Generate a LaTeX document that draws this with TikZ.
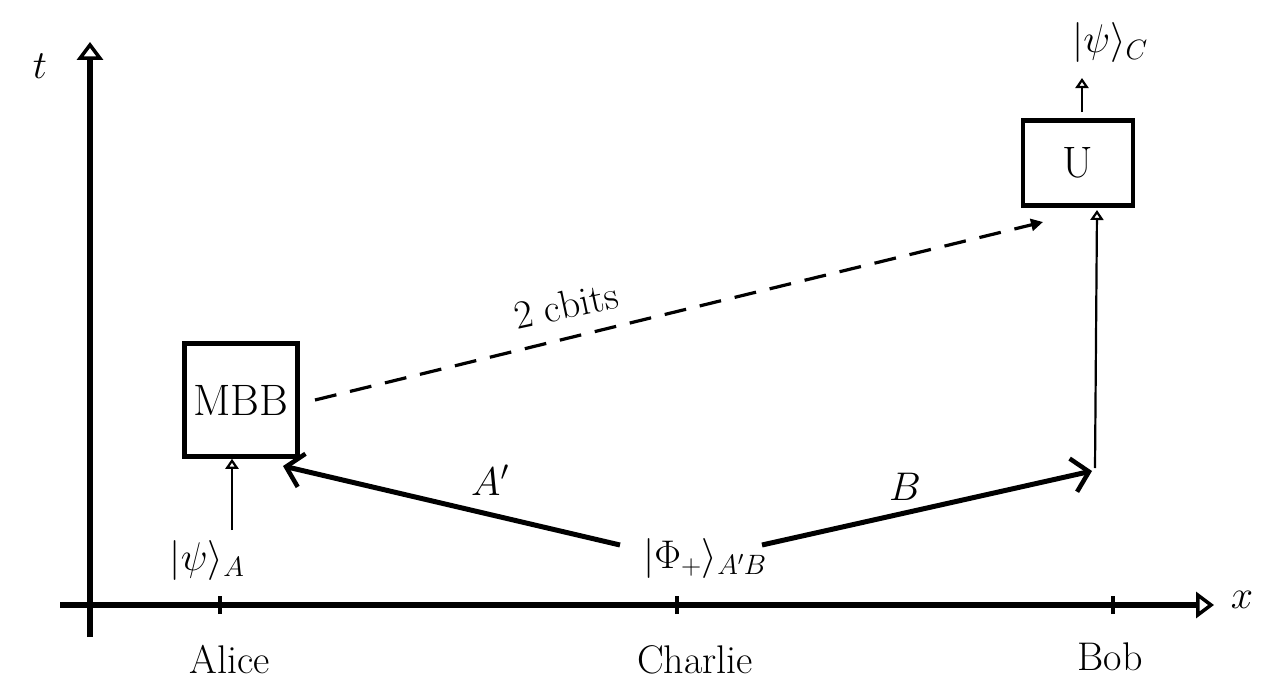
\RequirePackage{fix-cm}
\documentclass[tikz,border=0pt]{standalone}
\usetikzlibrary{arrows.meta}
\begin{document}
\begin{tikzpicture}[x=1pt,y=-1pt,
  axis/.style={line width=5.5pt, -{Triangle[open,length=18pt,width=26pt,line width=3.5pt]}},
  thinarr/.style={line width=2.2pt, -{Triangle[open,length=10pt,width=13pt,line width=2.2pt]}},
  thickarr/.style={line width=5pt, -{Straight Barb[length=16pt,width=34pt,line width=4.5pt]}},
  tick/.style={line width=3.5pt},
  box/.style={draw, line width=4.5pt, inner sep=0pt},
  lbl/.style={font=\fontsize{40}{42}\selectfont, inner sep=0pt},
  boxtxt/.style={font=\fontsize{44}{46}\selectfont},
  cbits/.style={line width=3.2pt, dash pattern=on 22pt off 14pt, -{Triangle[length=12pt,width=12pt]}},
]
\useasboundingbox (0,0) rectangle (1285,693);

% axes
\coordinate (tStart) at (90,637);
\coordinate (tEnd) at (90,42);
\coordinate (xStart) at (60,605);
\coordinate (xEnd) at (1214,605);
\draw[axis] (tStart) -- (tEnd);
\draw[axis] (xStart) -- (xEnd);
\node[lbl] (tlab) at (40,66) {$t$};
\node[lbl] (xlab) at (1242,600) {$x$};

% ticks
\coordinate (alice) at (220,605);
\coordinate (charlie) at (677,605);
\coordinate (bob) at (1113,605);
\foreach \p in {alice,charlie,bob}
  \draw[tick] ([yshift=-9pt]\p) -- ([yshift=9pt]\p);
\node[lbl] (alicelab) at (230,660) {Alice};
\node[lbl] (charlielab) at (695,660) {Charlie};
\node[lbl] (boblab) at (1110,657) {Bob};

% boxes
\node[box, boxtxt, minimum width=113pt, minimum height=113pt] (mbb) at (241,400) {MBB};
\node[box, boxtxt, minimum width=110pt, minimum height=85pt] (U) at (1078,163) {U};

% states
\node[lbl] (psiA) at (207,560) {$|\psi\rangle_{A}$};
\node[lbl] (phi) at (705,558) {$|\Phi_{+}\rangle_{A'B}$};
\node[lbl] (psiC) at (1110,43) {$|\psi\rangle_{C}$};

% arrows
\coordinate (aStart) at (232,530);
\draw[thinarr] (aStart) -- (aStart |- mbb.south);

\coordinate (phiL) at (620,545);
\coordinate (phiR) at (762,545);
\coordinate (aEnd) at (283,466);
\coordinate (bEnd) at (1092,471);
\draw[thickarr] (phiL) -- (aEnd);
\draw[thickarr] (phiR) -- (bEnd);
\node[lbl] (Alab) at (490,480) {$A'$};
\node[lbl] (Blab) at (905,487) {$B$};

\coordinate (bUp) at (1095,468);
\coordinate (uIn) at (1097,210);
\draw[thinarr] (bUp) -- (uIn);

\coordinate (uOut) at (1082,112);
\coordinate (cTip) at (1082,78);
\draw[thinarr] (uOut) -- (cTip);

% classical bits
\coordinate (dStart) at (315,400);
\coordinate (dEnd) at (1043,222);
\draw[cbits] (dStart) -- (dEnd);
\node[lbl, rotate=12] (cbitslab) at (566,305) {2 cbits};
\end{tikzpicture}
\end{document}
